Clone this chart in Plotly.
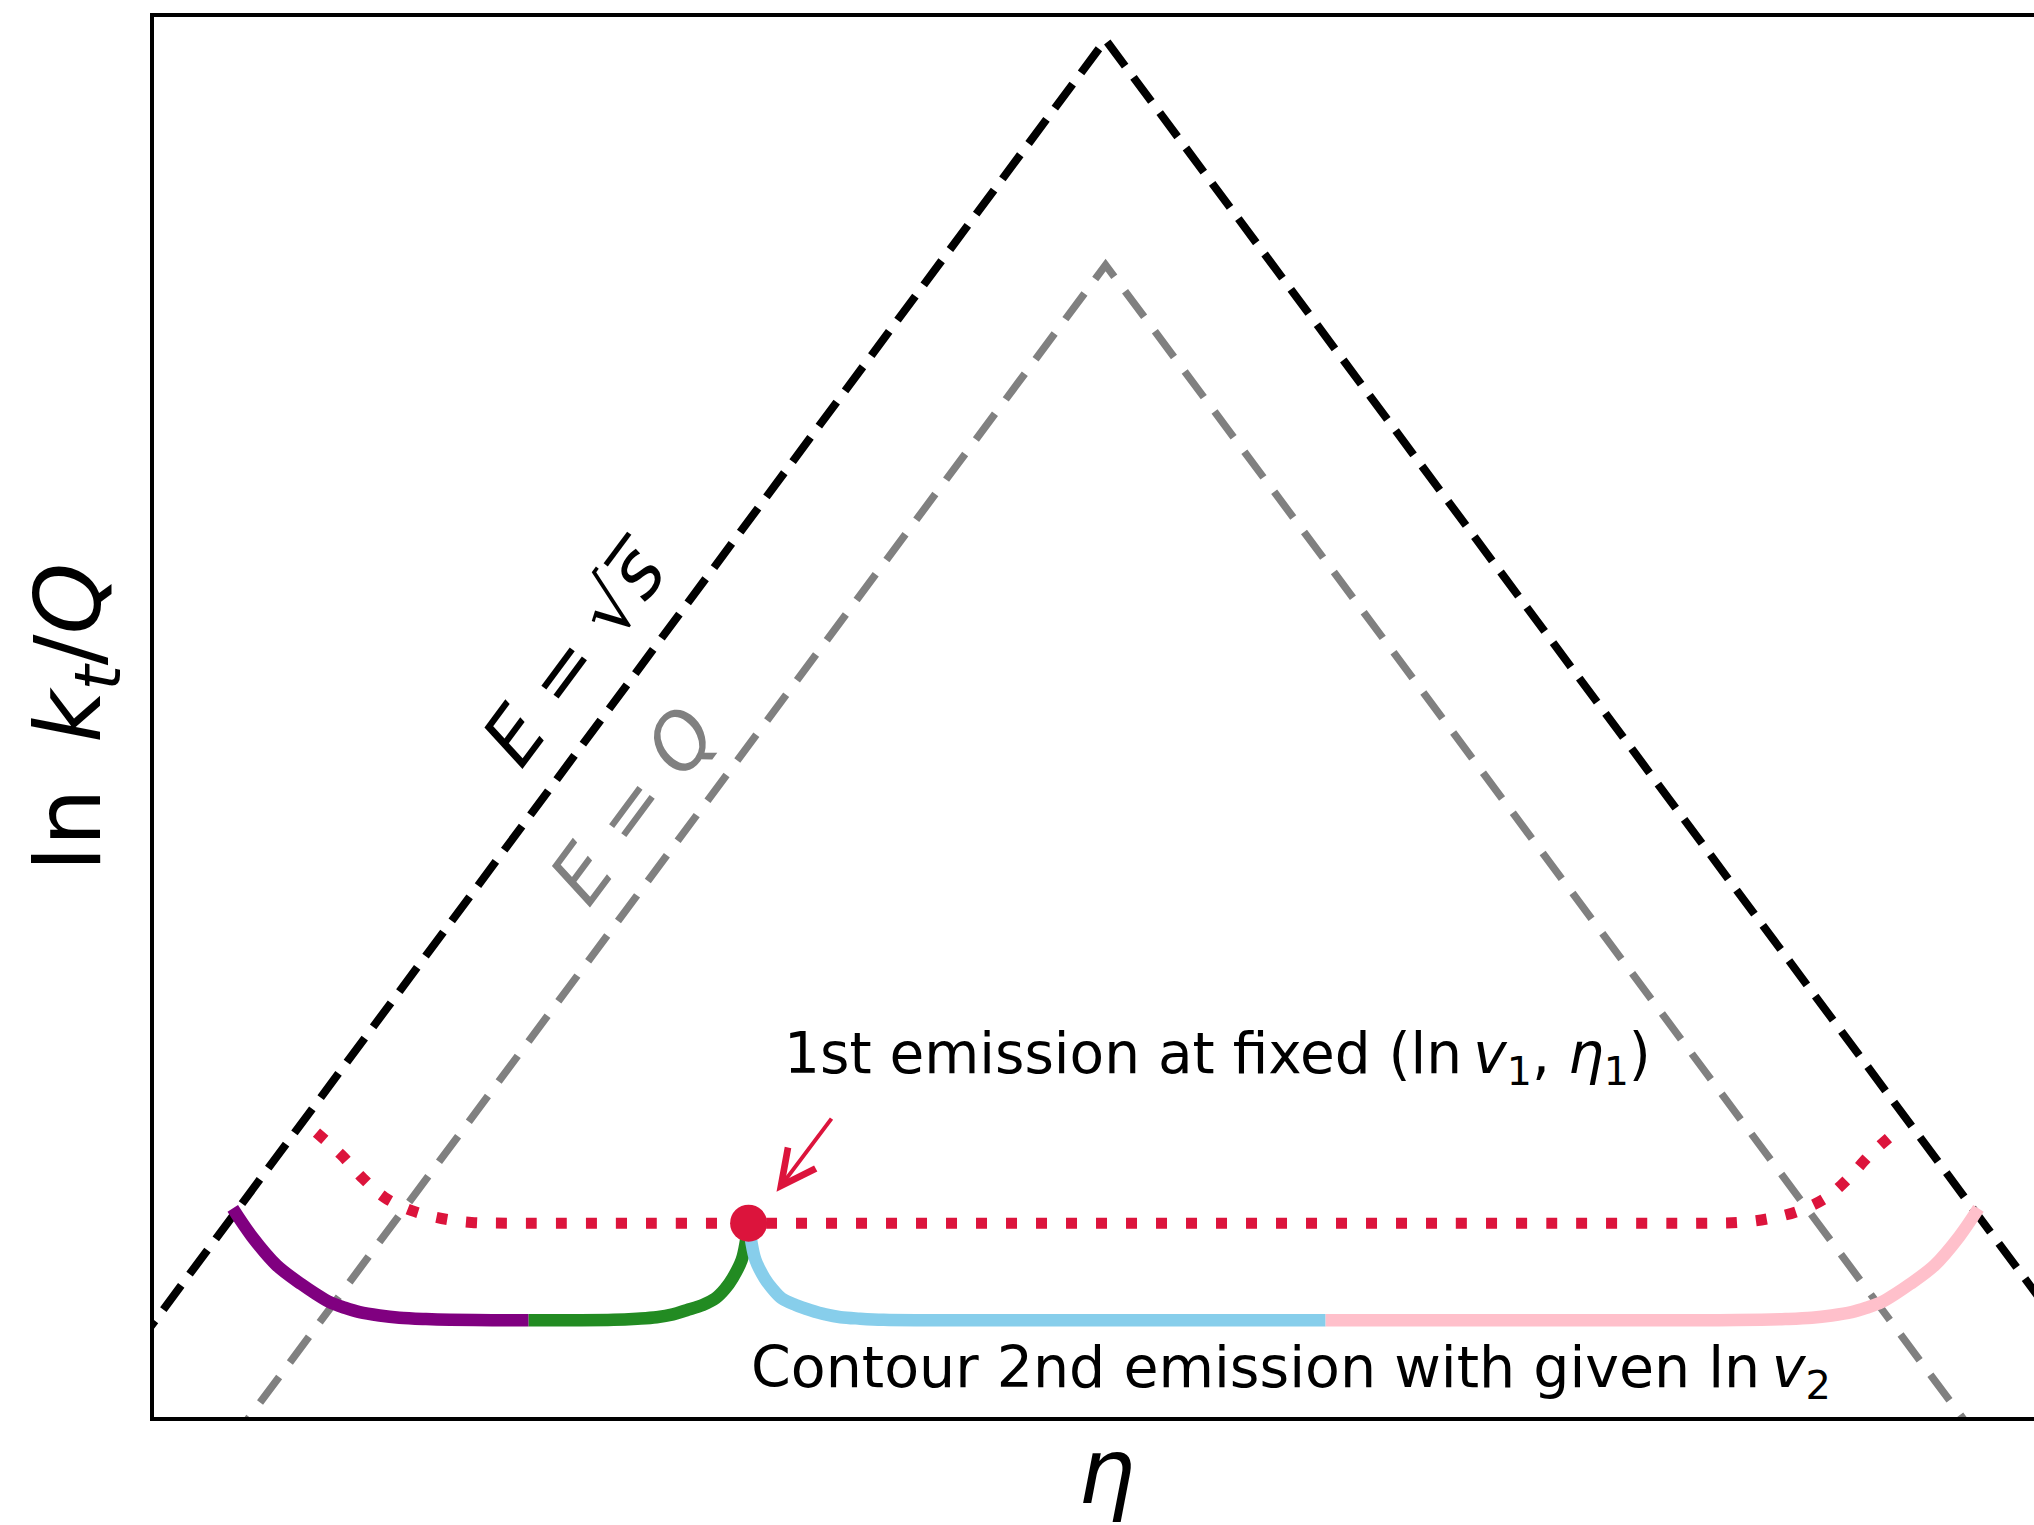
import plotly.graph_objects as go

# ---- axis window (eta, ln kt/Q) ----
X_RANGE = [-11.48, 11.20]
Y_RANGE = [-10.33, 2.224]

# ---- kinematic boundaries: ln kt/Q = peak - |eta| ----
EDGE_ETA = [-12.0, 0.0, 12.0]
SQRT_S_LNKT = [-10.0, 2.02, -10.0]    # E = sqrt(s)
Q_LNKT = [-12.0, 0.0, -12.0]          # E = Q

# ---- 1st emission at fixed (ln v1, eta1) ----
ETA1 = [-4.307]
LNKT1 = [-8.592]

# dotted contour of the 1st emission
V1_ETA = [-9.52, -9.22, -8.96, -8.70, -8.37, -8.01, -7.65, -7.2, -6.0, -4.0, -2.0, 0.0,
          2.0, 4.0, 6.0, 7.2, 7.65, 8.01, 8.37, 8.70, 8.96, 9.22, 9.52]
V1_LNKT = [-7.78, -7.98, -8.19, -8.36, -8.48, -8.55, -8.585, -8.592, -8.592, -8.592, -8.592, -8.592,
           -8.592, -8.592, -8.592, -8.592, -8.585, -8.55, -8.48, -8.36, -8.19, -7.98, -7.78]

# ---- contour of the 2nd emission with given ln v2, split in four pieces ----
PURPLE_ETA = [-10.53, -10.30, -10.00, -9.70, -9.54, -9.36, -9.18, -9.00, -8.76, -8.52, -8.2, -7.91, -7.4, -6.96]
PURPLE_LNKT = [-8.46, -8.71, -8.97, -9.14, -9.22, -9.30, -9.35, -9.39, -9.42, -9.44, -9.452, -9.458, -9.462, -9.462]

GREEN_ETA = [-6.96, -6.4, -5.935, -5.65, -5.417, -5.22, -5.055, -4.86, -4.705, -4.59, -4.500, -4.391, -4.337, -4.307]
GREEN_LNKT = [-9.462, -9.462, -9.458, -9.448, -9.435, -9.41, -9.372, -9.325, -9.265, -9.18, -9.085, -8.924, -8.744, -8.592]

BLUE_ETA = [-4.307, -4.277, -4.223, -4.114, -4.02, -3.909, -3.74, -3.559, -3.38, -3.197, -2.96, -2.679,
            -2.2, -1.0, 1.0, 2.654]
BLUE_LNKT = [-8.592, -8.744, -8.924, -9.085, -9.18, -9.265, -9.325, -9.372, -9.41, -9.435, -9.448, -9.458,
             -9.462, -9.462, -9.462, -9.462]

PINK_ETA = [2.654, 4.5, 6.96, 7.4, 7.91, 8.2, 8.52, 8.76, 9.00, 9.18, 9.36, 9.54, 9.70, 10.00, 10.30, 10.53]
PINK_LNKT = [-9.462, -9.462, -9.462, -9.462, -9.458, -9.452, -9.44, -9.42, -9.39, -9.35, -9.30, -9.22,
             -9.14, -8.97, -8.71, -8.46]

# arrow pointing at the 1st emission: [tail, head]
ARROW_ETA = [-3.293, -3.97]
ARROW_LNKT = [-7.641, -8.31]

FONT = "DejaVu Sans"
CRIMSON = "#DC143C"
CONTOUR_WIDTH = 12.5

fig = go.Figure()

fig.add_trace(go.Scatter(x=EDGE_ETA, y=SQRT_S_LNKT, mode="lines",
                         line=dict(color="black", width=8, dash="30px,14px")))
fig.add_trace(go.Scatter(x=EDGE_ETA, y=Q_LNKT, mode="lines",
                         line=dict(color="gray", width=7.5, dash="32px,18px")))

fig.add_trace(go.Scatter(x=V1_ETA, y=V1_LNKT, mode="lines",
                         line=dict(color=CRIMSON, width=11, dash="11px,19px",
                                   shape="spline", smoothing=1.0)))

for xs, ys, col in [(PURPLE_ETA, PURPLE_LNKT, "purple"),
                    (GREEN_ETA, GREEN_LNKT, "forestgreen"),
                    (BLUE_ETA, BLUE_LNKT, "skyblue"),
                    (PINK_ETA, PINK_LNKT, "pink")]:
    fig.add_trace(go.Scatter(x=xs, y=ys, mode="lines",
                             line=dict(color=col, width=CONTOUR_WIDTH, shape="spline", smoothing=1.0)))

fig.add_trace(go.Scatter(x=ETA1, y=LNKT1, mode="markers",
                         marker=dict(color=CRIMSON, size=37, line=dict(width=0))))

annotations = [
    dict(x=ARROW_ETA[1], y=ARROW_LNKT[1], ax=ARROW_ETA[0], ay=ARROW_LNKT[0],
         xref="x", yref="y", axref="x", ayref="y", text="", showarrow=True,
         arrowhead=5, arrowsize=1.7, arrowwidth=4, arrowcolor=CRIMSON, standoff=0),
    dict(x=-3.908, y=-7.103, xref="x", yref="y", xanchor="left", yanchor="middle",
         showarrow=False,
         text="1st emission at fixed (ln\u2009<i>v</i><sub>1</sub>, <i>\u03b7</i><sub>1</sub>)",
         font=dict(family=FONT, size=56.5, color="black")),
    dict(x=-4.307, y=-9.92, xref="x", yref="y", xanchor="left", yanchor="middle",
         showarrow=False,
         text="Contour 2nd emission with given ln\u2009<i>v</i><sub>2</sub>",
         font=dict(family=FONT, size=57, color="black")),
    dict(x=-6.393, y=-3.471, xref="x", yref="y", xanchor="center", yanchor="middle",
         showarrow=False, textangle=-53.4,
         text="<i>E</i> = \u221a<i>s\u0305</i>",
         font=dict(family=FONT, size=76, color="black")),
    dict(x=-5.706, y=-4.843, xref="x", yref="y", xanchor="center", yanchor="middle",
         showarrow=False, textangle=-53.4,
         text="<i>E</i> = <i>Q</i>",
         font=dict(family=FONT, size=76, color="gray")),
    # axis titles
    dict(x=-0.0418, y=0.5, xref="paper", yref="paper", xanchor="center", yanchor="middle",
         showarrow=False, textangle=-90,
         text="ln\u2002<i>k</i><sub><i>t</i></sub>/<i>Q</i>",
         font=dict(family=FONT, size=91, color="black")),
    dict(x=0.5064, y=-0.0386, xref="paper", yref="paper", xanchor="center", yanchor="middle",
         showarrow=False, text="<i>\u03b7</i>",
         font=dict(family=FONT, size=90, color="black")),
]

fig.update_layout(
    width=2034, height=1525, autosize=False,
    margin=dict(l=154, r=0, t=17, b=108, pad=0),
    paper_bgcolor="white", plot_bgcolor="white",
    showlegend=False,
    annotations=annotations,
    font=dict(family=FONT),
)
fig.update_xaxes(range=X_RANGE, showgrid=False, zeroline=False, showticklabels=False,
                 ticks="", showline=True, mirror=True, linecolor="black", linewidth=4)
fig.update_yaxes(range=Y_RANGE, showgrid=False, zeroline=False, showticklabels=False,
                 ticks="", showline=True, mirror=False, linecolor="black", linewidth=4)

fig.write_html("out.html")
